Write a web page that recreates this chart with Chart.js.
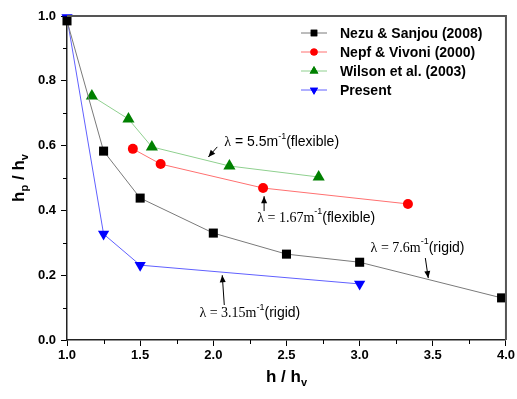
<!DOCTYPE html>
<html>
<head>
<meta charset="utf-8">
<script src="https://cdn.jsdelivr.net/npm/chart.js@4"></script>
<style>
  html, body { margin: 0; padding: 0; background: #fff; }
  #wrap { width: 517px; height: 399px; }
</style>
</head>
<body>
<div id="wrap"><canvas id="chart" width="517" height="399"></canvas></div>
<script>
// data
var nezuX  = [1.0, 1.25, 1.5, 2.0, 2.5, 3.0, 3.97];
var nezuY  = [0.985, 0.583, 0.438, 0.33, 0.265, 0.24, 0.13];
var nepfX  = [1.45, 1.64, 2.34, 3.33];
var nepfY  = [0.59, 0.543, 0.469, 0.42];
var wilsonX = [1.17, 1.42, 1.58, 2.11, 2.72];
var wilsonY = [0.753, 0.682, 0.596, 0.537, 0.503];
var presentX = [1.0, 1.25, 1.5, 3.0];
var presentY = [0.995, 0.327, 0.231, 0.173];

var seriesNames = ["Nezu & Sanjou (2008)", "Nepf & Vivoni (2000)", "Wilson et al. (2003)", "Present"];
var xTicks = [1.0, 1.5, 2.0, 2.5, 3.0, 3.5, 4.0];
var yTicks = [0.0, 0.2, 0.4, 0.6, 0.8, 1.0];

var SERIF = '14px "Liberation Serif", "Times New Roman", serif';
var SANS = '14px "Liberation Sans", Arial, sans-serif';
var SUP = '9px "Liberation Sans", Arial, sans-serif';

// annotations: text anchor and arrow (tail -> head), in data units
var notes = [
  { parts: [["\u03bb", SERIF], [" = 5.5m", SANS], ["-1", SUP, -6], ["(flexible)", SANS]],
    x: 2.075, y: 0.611, ax: [2.027, 0.596, 1.966, 0.565] },
  { parts: [["\u03bb = 1.67m", SERIF], ["-1", SUP, -6], ["(flexible)", SANS]],
    x: 2.30, y: 0.377, ax: [2.347, 0.398, 2.347, 0.444] },
  { parts: [["\u03bb = 7.6m", SERIF], ["-1", SUP, -6], ["(rigid)", SANS]],
    x: 3.075, y: 0.284, ax: [3.449, 0.253, 3.469, 0.191] },
  { parts: [["\u03bb = 3.15m", SERIF], ["-1", SUP, -6], ["(rigid)", SANS]],
    x: 1.905, y: 0.083, ax: [2.075, 0.108, 2.061, 0.20] }
];

function pts(xs, ys) {
  return xs.map(function (x, i) { return { x: x, y: ys[i] }; });
}

var styles = [
  { line: '#7a7a7a', fill: '#000000', shape: 'rect', r: 6.4, rot: 0 },
  { line: '#ff7070', fill: '#ff0000', shape: 'circle', r: 5, rot: 0 },
  { line: '#8fd08f', fill: '#008000', shape: 'triangle', r: 7, rot: 0 },
  { line: '#6060ff', fill: '#0000ff', shape: 'triangle', r: 6.5, rot: 180 }
];

var allData = [pts(nezuX, nezuY), pts(nepfX, nepfY), pts(wilsonX, wilsonY), pts(presentX, presentY)];

var datasets = allData.map(function (d, i) {
  var s = styles[i];
  return {
    label: seriesNames[i],
    data: d,
    showLine: true,
    borderColor: s.line,
    borderWidth: 1,
    backgroundColor: s.fill,
    pointBackgroundColor: s.fill,
    pointBorderColor: s.fill,
    pointBorderWidth: 0,
    pointStyle: s.shape,
    pointRadius: s.r,
    pointRotation: s.rot,
    pointHoverRadius: s.r,
    clip: false
  };
});

function drawSubText(ctx, parts, x, y, align) {
  // parts: [text, font, dy]
  var total = 0;
  parts.forEach(function (p) { ctx.font = p[1]; total += ctx.measureText(p[0]).width; });
  var cx = align === 'center' ? x - total / 2 : x;
  parts.forEach(function (p) {
    ctx.font = p[1];
    ctx.fillText(p[0], cx, y + (p[2] || 0));
    cx += ctx.measureText(p[0]).width;
  });
}

var extras = {
  id: 'extras',
  afterDraw: function (chart) {
    var ctx = chart.ctx, a = chart.chartArea;
    var xs = chart.scales.x, ys = chart.scales.y;
    ctx.save();

    // frame top + right
    ctx.strokeStyle = '#555';
    ctx.lineWidth = 2;
    ctx.beginPath();
    ctx.moveTo(a.left, a.top);
    ctx.lineTo(a.right, a.top);
    ctx.lineTo(a.right, a.bottom);
    ctx.stroke();

    // minor ticks
    ctx.strokeStyle = '#000';
    ctx.lineWidth = 1;
    ctx.beginPath();
    for (var v = 1.25; v < 4; v += 0.5) {
      var px = Math.round(xs.getPixelForValue(v)) + 0.5;
      ctx.moveTo(px, a.bottom); ctx.lineTo(px, a.bottom + 4);
    }
    for (var w = 0.1; w < 1; w += 0.2) {
      var py = Math.round(ys.getPixelForValue(w)) + 0.5;
      ctx.moveTo(a.left, py); ctx.lineTo(a.left - 4, py);
    }
    ctx.stroke();

    // axis titles
    ctx.fillStyle = '#000';
    ctx.textBaseline = 'alphabetic';
    var big = 'bold 17px "Liberation Sans", Arial, sans-serif';
    var small = 'bold 11px "Liberation Sans", Arial, sans-serif';
    drawSubText(ctx, [['h / h', big], ['v', small, 4]], (a.left + a.right) / 2, 382, 'center');
    ctx.save();
    ctx.translate(24, (a.top + a.bottom) / 2);
    ctx.rotate(-Math.PI / 2);
    drawSubText(ctx, [['h', big], ['p', small, 4], [' / h', big], ['v', small, 4]], 0, 0, 'center');
    ctx.restore();

    // legend
    var lx = a.left + 234, ly = a.top + 17;
    styles.forEach(function (s, i) {
      var y = ly + i * 19;
      ctx.strokeStyle = s.line;
      ctx.lineWidth = 1;
      ctx.beginPath();
      ctx.moveTo(lx, y); ctx.lineTo(lx + 26, y);
      ctx.stroke();
      ctx.fillStyle = s.fill;
      Chart.helpers.drawPoint(ctx, { pointStyle: s.shape, radius: s.r * 0.72, rotation: s.rot, borderWidth: 0 }, lx + 13, y);
      ctx.fill();
      ctx.fillStyle = '#000';
      ctx.font = 'bold 14px "Liberation Sans", Arial, sans-serif';
      ctx.textBaseline = 'middle';
      ctx.fillText(seriesNames[i], lx + 39, y + 1);
    });

    // annotations
    ctx.textBaseline = 'middle';
    notes.forEach(function (n) {
      var tx = xs.getPixelForValue(n.x), ty = ys.getPixelForValue(n.y);
      ctx.fillStyle = '#000';
      drawSubText(ctx, n.parts, tx, ty, 'left');
      var x1 = xs.getPixelForValue(n.ax[0]), y1 = ys.getPixelForValue(n.ax[1]);
      var x2 = xs.getPixelForValue(n.ax[2]), y2 = ys.getPixelForValue(n.ax[3]);
      ctx.strokeStyle = '#000';
      ctx.lineWidth = 1;
      ctx.beginPath(); ctx.moveTo(x1, y1); ctx.lineTo(x2, y2); ctx.stroke();
      var ang = Math.atan2(y2 - y1, x2 - x1);
      ctx.beginPath();
      ctx.moveTo(x2, y2);
      ctx.lineTo(x2 - 7 * Math.cos(ang) + 3 * Math.sin(ang), y2 - 7 * Math.sin(ang) - 3 * Math.cos(ang));
      ctx.lineTo(x2 - 7 * Math.cos(ang) - 3 * Math.sin(ang), y2 - 7 * Math.sin(ang) + 3 * Math.cos(ang));
      ctx.closePath();
      ctx.fill();
    });
    ctx.restore();
  }
};

var tickFont = { family: '"Liberation Sans", Arial, sans-serif', size: 13, weight: 'bold' };

new Chart(document.getElementById('chart'), {
  type: 'scatter',
  data: { datasets: datasets },
  options: {
    responsive: false,
    animation: false,
    events: [],
    layout: { padding: { top: 16, right: 9, left: 0, bottom: 0 } },
    plugins: { legend: { display: false }, tooltip: { enabled: false } },
    scales: {
      x: {
        type: 'linear',
        min: 1, max: 4,
        afterBuildTicks: function (s) { s.ticks = xTicks.map(function (v) { return { value: v }; }); },
        afterFit: function (s) { s.height = 59; },
        ticks: { font: tickFont, color: '#000', padding: 2, maxRotation: 0,
                 callback: function (v) { return v.toFixed(1); } },
        grid: { drawOnChartArea: false, tickLength: 6, color: '#000', tickWidth: 1 },
        border: { color: '#222', width: 1.5 }
      },
      y: {
        type: 'linear',
        min: 0, max: 1,
        afterBuildTicks: function (s) { s.ticks = yTicks.map(function (v) { return { value: v }; }); },
        afterFit: function (s) { s.width = 67; },
        ticks: { font: tickFont, color: '#000', padding: 5,
                 callback: function (v) { return v.toFixed(1); } },
        grid: { drawOnChartArea: false, tickLength: 6, color: '#000', tickWidth: 1 },
        border: { color: '#222', width: 1.5 }
      }
    }
  },
  plugins: [extras]
});
</script>
</body>
</html>
